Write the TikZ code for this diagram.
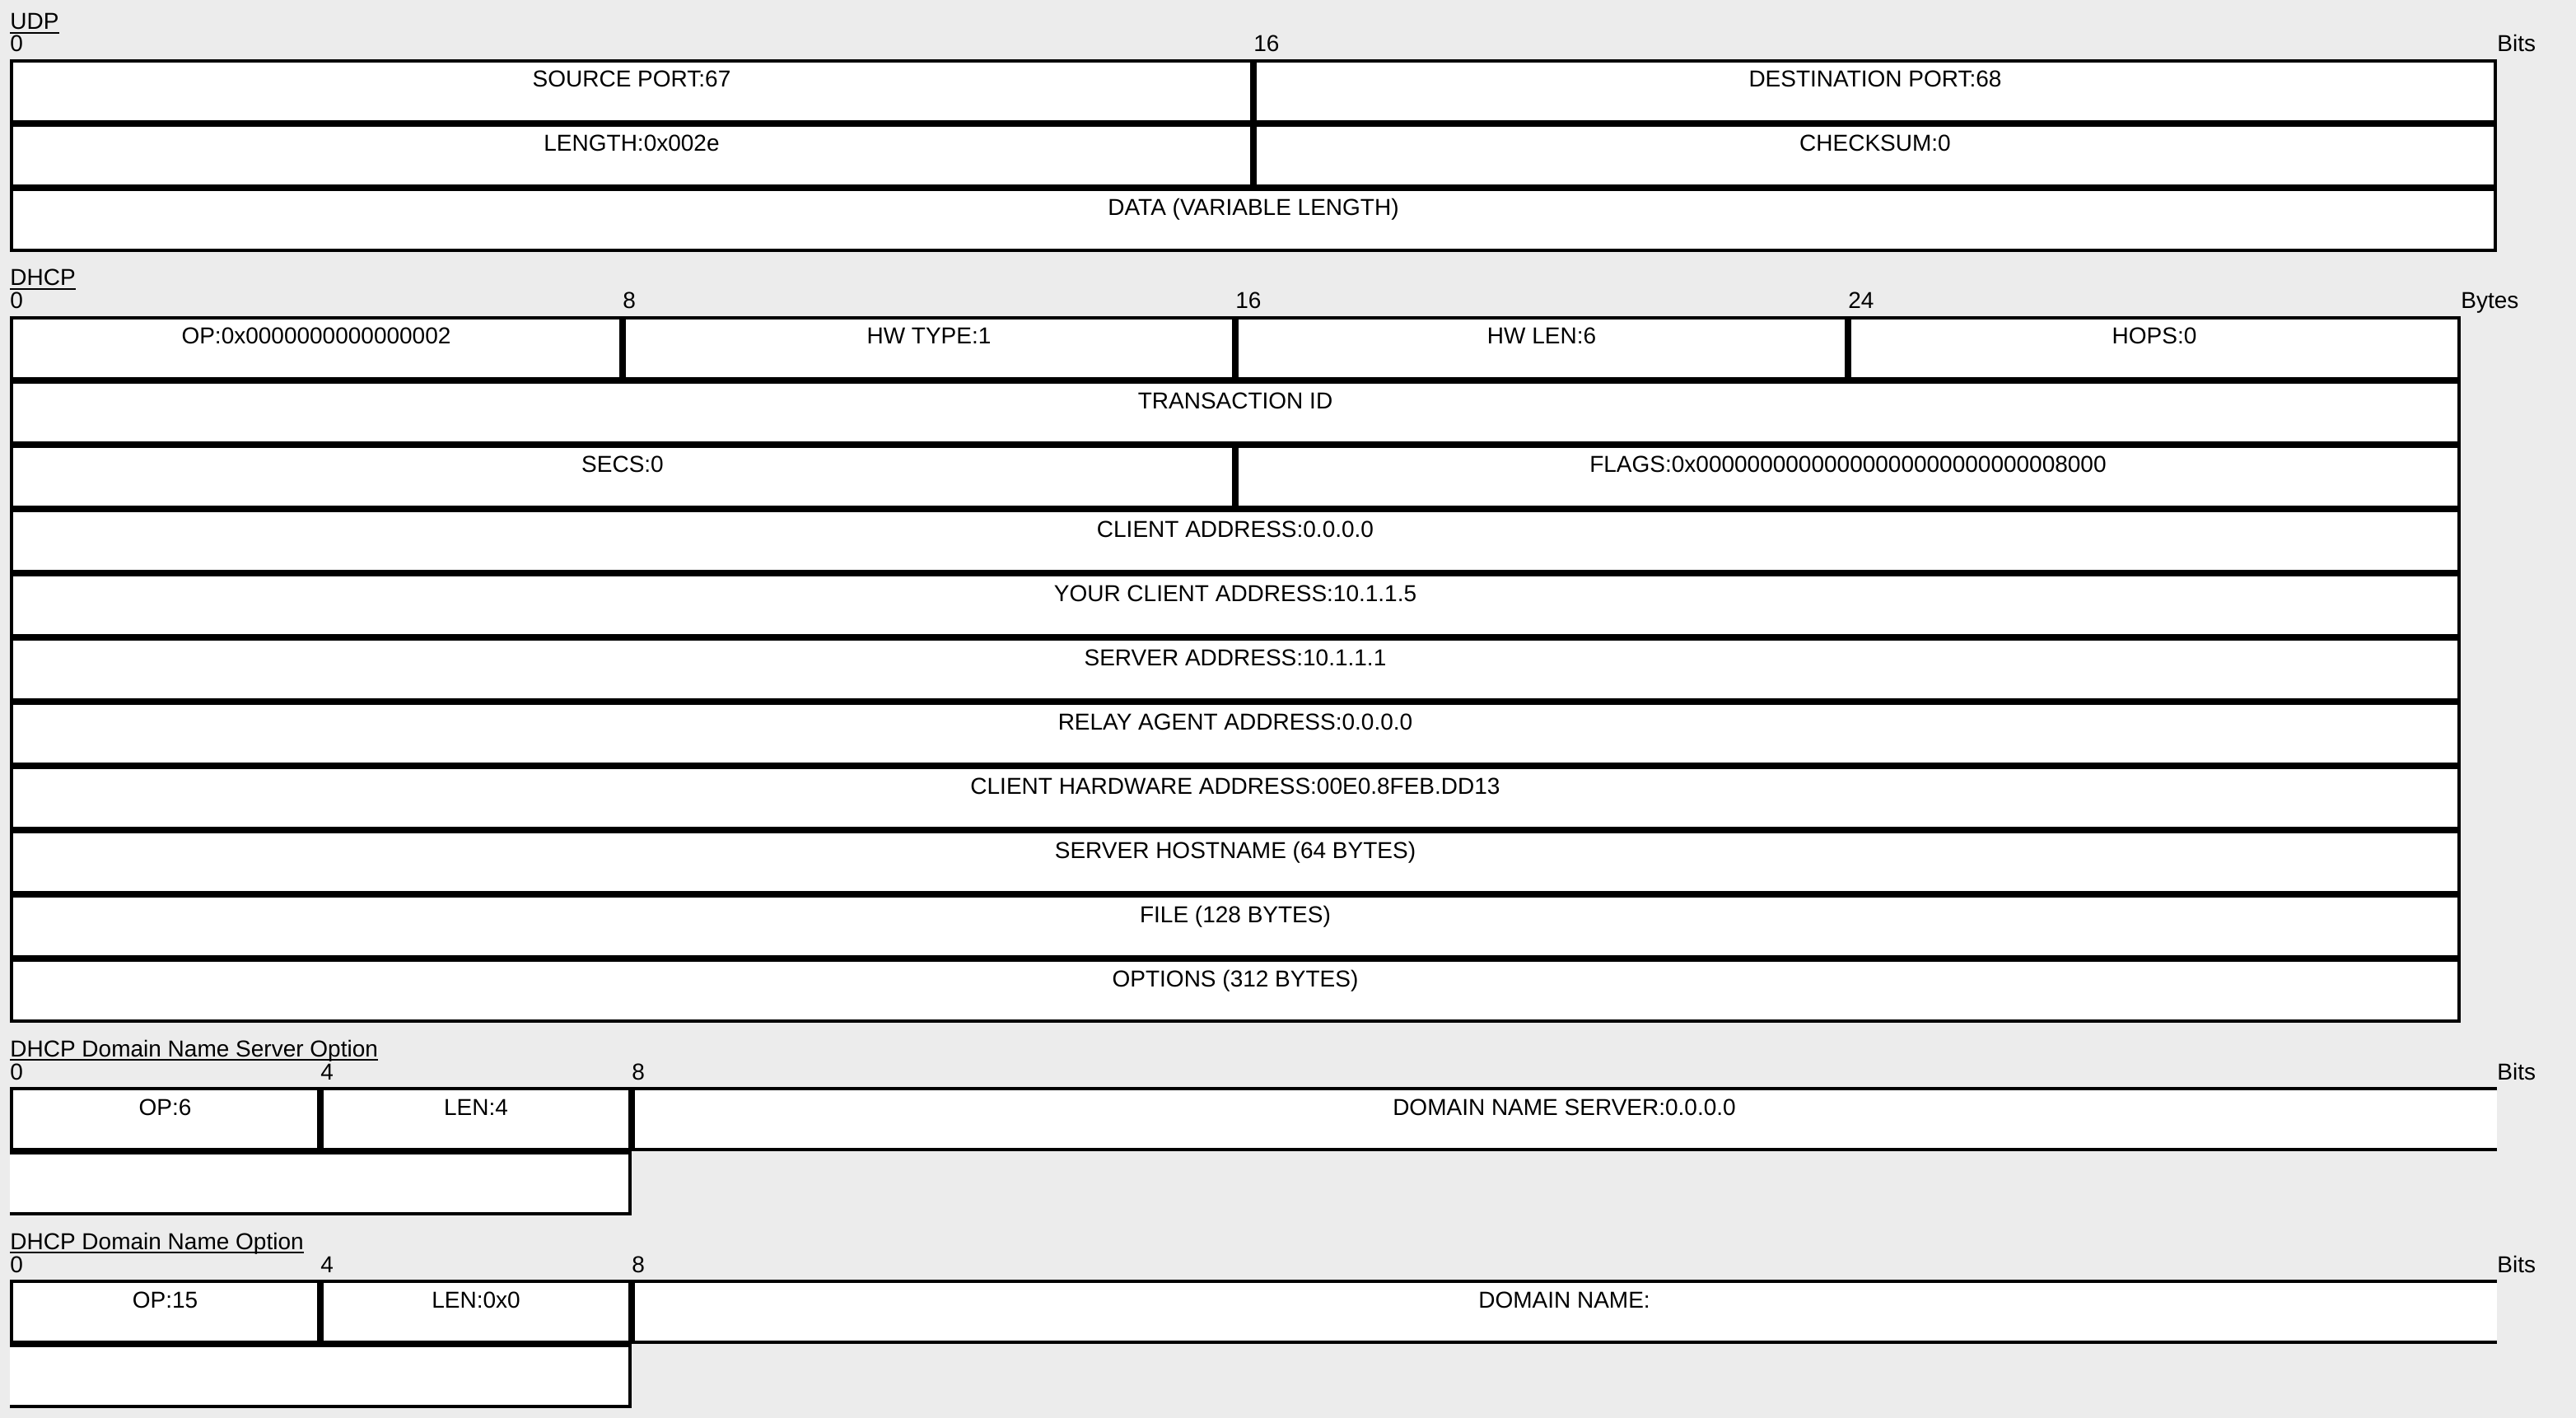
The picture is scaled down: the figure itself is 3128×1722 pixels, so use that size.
\documentclass[tikz,border=0pt]{standalone}
\usepackage{fontspec}
\setmainfont{Liberation Sans}
\definecolor{bgcol}{HTML}{ECECEC}
\tikzset{
  cellbox/.style={draw=black, line width=2pt, fill=white},
  openline/.style={draw=black, line width=2pt},
  celltext/.style={inner sep=0pt, anchor=base, font=\fontsize{14}{16}\selectfont},
  ticktext/.style={inner sep=0pt, anchor=base west, font=\fontsize{14}{16}\selectfont},
  titletext/.style={inner sep=0pt, anchor=base west, font=\fontsize{14}{16}\selectfont},
  underl/.style={draw=black, line width=0.6pt}
}
% name, x0, x1, y0, y1, text
\newcommand\pktcell[6]{%
  \draw[cellbox] ({#2+2},{#4+2}) rectangle ({#3-2},{#5-2});
  \node[celltext] (#1) at ({(#2+#3)/2},{#4+34}) {#6};
}
% name, x, y(baseline), text
\newcommand\pkttitle[4]{%
  \node[titletext] (#1) at (#2,#3) {#4};
  \draw[underl] ([yshift=-2pt]#1.base west) -- ([yshift=-2pt]#1.base east);
}
\begin{document}
\begin{tikzpicture}[x=0.5pt,y=-0.5pt]
\fill[bgcol] (0,0) rectangle (3128,1722);
\useasboundingbox (0,0) rectangle (3128,1722);

% ---------------- UDP ----------------
\pkttitle{udpT}{12}{36}{UDP}
\node[ticktext] (udpt0) at (12,63) {0};
\node[ticktext] (udpt16) at (1522,63) {16};
\node[ticktext] (udpbits) at (3032,63) {Bits};
\pktcell{udpsrc}{12}{1522}{72}{150}{SOURCE PORT:67}
\pktcell{udpdst}{1522}{3032}{72}{150}{DESTINATION PORT:68}
\pktcell{udplen}{12}{1522}{150}{228}{LENGTH:0x002e}
\pktcell{udpchk}{1522}{3032}{150}{228}{CHECKSUM:0}
\pktcell{udpdata}{12}{3032}{228}{306}{DATA (VARIABLE LENGTH)}

% ---------------- DHCP ----------------
\pkttitle{dhcpT}{12}{347}{DHCP}
\node[ticktext] (dt0) at (12,375) {0};
\node[ticktext] (dt8) at (756,375) {8};
\node[ticktext] (dt16) at (1500,375) {16};
\node[ticktext] (dt24) at (2244,375) {24};
\node[ticktext] (dbytes) at (2988,375) {Bytes};
\pktcell{dop}{12}{756}{384}{462}{OP:0x0000000000000002}
\pktcell{dhwt}{756}{1500}{384}{462}{HW TYPE:1}
\pktcell{dhwl}{1500}{2244}{384}{462}{HW LEN:6}
\pktcell{dhops}{2244}{2988}{384}{462}{HOPS:0}
\pktcell{dxid}{12}{2988}{462}{540}{TRANSACTION ID}
\pktcell{dsecs}{12}{1500}{540}{618}{SECS:0}
\pktcell{dflags}{1500}{2988}{540}{618}{FLAGS:0x00000000000000000000000000008000}
\pktcell{dciaddr}{12}{2988}{618}{696}{CLIENT ADDRESS:0.0.0.0}
\pktcell{dyiaddr}{12}{2988}{696}{774}{YOUR CLIENT ADDRESS:10.1.1.5}
\pktcell{dsiaddr}{12}{2988}{774}{852}{SERVER ADDRESS:10.1.1.1}
\pktcell{dgiaddr}{12}{2988}{852}{930}{RELAY AGENT ADDRESS:0.0.0.0}
\pktcell{dchaddr}{12}{2988}{930}{1008}{CLIENT HARDWARE ADDRESS:00E0.8FEB.DD13}
\pktcell{dsname}{12}{2988}{1008}{1086}{SERVER HOSTNAME (64 BYTES)}
\pktcell{dfile}{12}{2988}{1086}{1164}{FILE (128 BYTES)}
\pktcell{dopts}{12}{2988}{1164}{1242}{OPTIONS (312 BYTES)}

% ---------------- DHCP Domain Name Server Option ----------------
\pkttitle{o1T}{12}{1283}{DHCP Domain Name Server Option}
\node[ticktext] (o1t0) at (12,1311) {0};
\node[ticktext] (o1t4) at (389,1311) {4};
\node[ticktext] (o1t8) at (767,1311) {8};
\node[ticktext] (o1bits) at (3032,1311) {Bits};
\pktcell{o1op}{12}{389}{1320}{1398}{OP:6}
\pktcell{o1len}{389}{767}{1320}{1398}{LEN:4}
\fill[white] (767,1320) rectangle (3032,1398);
\draw[openline] (3032,1322) -- (769,1322) -- (769,1396) -- (3032,1396);
\node[celltext] (o1dns) at ({(767+3032)/2},1354) {DOMAIN NAME SERVER:0.0.0.0};
\fill[white] (12,1398) rectangle (767,1476);
\draw[openline] (12,1400) -- (765,1400) -- (765,1474) -- (12,1474);

% ---------------- DHCP Domain Name Option ----------------
\pkttitle{o2T}{12}{1517}{DHCP Domain Name Option}
\node[ticktext] (o2t0) at (12,1545) {0};
\node[ticktext] (o2t4) at (389,1545) {4};
\node[ticktext] (o2t8) at (767,1545) {8};
\node[ticktext] (o2bits) at (3032,1545) {Bits};
\pktcell{o2op}{12}{389}{1554}{1632}{OP:15}
\pktcell{o2len}{389}{767}{1554}{1632}{LEN:0x0}
\fill[white] (767,1554) rectangle (3032,1632);
\draw[openline] (3032,1556) -- (769,1556) -- (769,1630) -- (3032,1630);
\node[celltext] (o2dn) at ({(767+3032)/2},1588) {DOMAIN NAME:};
\fill[white] (12,1632) rectangle (767,1710);
\draw[openline] (12,1634) -- (765,1634) -- (765,1708) -- (12,1708);
\end{tikzpicture}
\end{document}
